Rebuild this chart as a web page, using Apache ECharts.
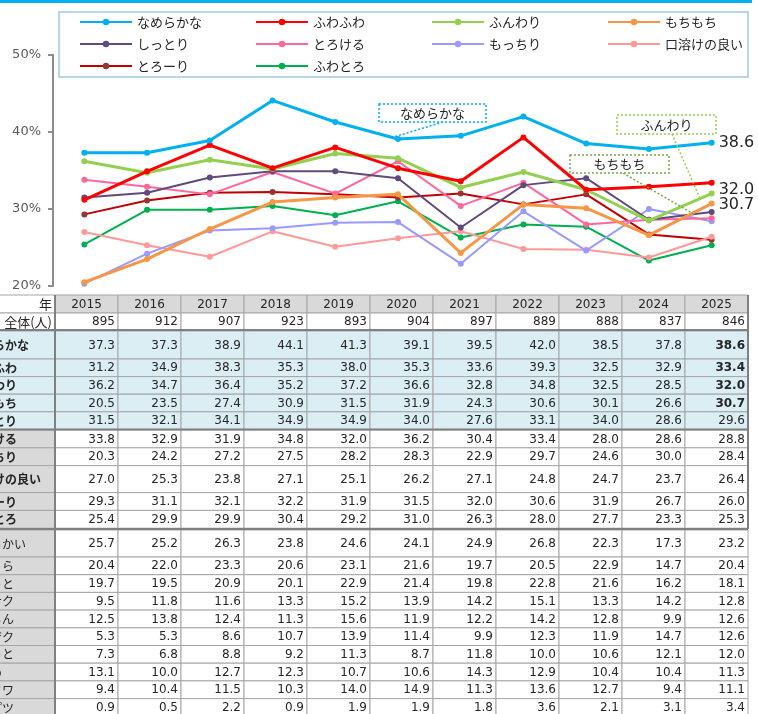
<!DOCTYPE html>
<html lang="ja">
<head>
<meta charset="utf-8">
<title>食感イメージの推移</title>
<script src="https://cdn.jsdelivr.net/npm/echarts@6/dist/echarts.min.js"></script>
<style>
  html, body { margin: 0; padding: 0; background: #fff; }
  #chart { width: 758px; height: 714px; }
</style>
</head>
<body>
<div id="chart"></div>
<script>
// 年・回答者数
const years = ['2015', '2016', '2017', '2018', '2019', '2020', '2021', '2022', '2023', '2024', '2025']
const totals = [895, 912, 907, 923, 893, 904, 897, 889, 888, 837, 846]

// グラフに描く10項目 (%)
const nameraka  = [37.3, 37.3, 38.9, 44.1, 41.3, 39.1, 39.5, 42.0, 38.5, 37.8, 38.6]
const fuwafuwa  = [31.2, 34.9, 38.3, 35.3, 38.0, 35.3, 33.6, 39.3, 32.5, 32.9, 33.4]
const funwari   = [36.2, 34.7, 36.4, 35.2, 37.2, 36.6, 32.8, 34.8, 32.5, 28.5, 32.0]
const mochimochi = [20.5, 23.5, 27.4, 30.9, 31.5, 31.9, 24.3, 30.6, 30.1, 26.6, 30.7]
const shittori  = [31.5, 32.1, 34.1, 34.9, 34.9, 34.0, 27.6, 33.1, 34.0, 28.6, 29.6]
const torokeru  = [33.8, 32.9, 31.9, 34.8, 32.0, 36.2, 30.4, 33.4, 28.0, 28.6, 28.8]
const mocchiri  = [20.3, 24.2, 27.2, 27.5, 28.2, 28.3, 22.9, 29.7, 24.6, 30.0, 28.4]
const kuchidoke = [27.0, 25.3, 23.8, 27.1, 25.1, 26.2, 27.1, 24.8, 24.7, 23.7, 26.4]
const torori    = [29.3, 31.1, 32.1, 32.2, 31.9, 31.5, 32.0, 30.6, 31.9, 26.7, 26.0]
const fuwatoro  = [25.4, 29.9, 29.9, 30.4, 29.2, 31.0, 26.3, 28.0, 27.7, 23.3, 25.3]

// 表のみの項目 (%)
const yawarakai = [25.7, 25.2, 26.3, 23.8, 24.6, 24.1, 24.9, 26.8, 22.3, 17.3, 23.2]
const fukkura   = [20.4, 22.0, 23.3, 20.6, 23.1, 21.6, 19.7, 20.5, 22.9, 14.7, 20.4]
const saratto   = [19.7, 19.5, 20.9, 20.1, 22.9, 21.4, 19.8, 22.8, 21.6, 16.2, 18.1]
const sakusaku  = [9.5, 11.8, 11.6, 13.3, 15.2, 13.9, 14.2, 15.1, 13.3, 14.2, 12.8]
const pururun   = [12.5, 13.8, 12.4, 11.3, 15.6, 11.9, 12.2, 14.2, 12.8, 9.9, 12.6]
const zakuzaku  = [5.3, 5.3, 8.6, 10.7, 13.9, 11.4, 9.9, 12.3, 11.9, 14.7, 12.6]
const horotto   = [7.3, 6.8, 8.8, 9.2, 11.3, 8.7, 11.8, 10.0, 10.6, 12.1, 12.0]
const katame    = [13.1, 10.0, 12.7, 12.3, 10.7, 10.6, 14.3, 12.9, 10.4, 10.4, 11.3]
const fuwaKana  = [9.4, 10.4, 11.5, 10.3, 14.0, 14.9, 11.3, 13.6, 12.7, 9.4, 11.1]
const putsuputsu = [0.9, 0.5, 2.2, 0.9, 1.9, 1.9, 1.8, 3.6, 2.1, 3.1, 3.4]

const lineNames = ['なめらかな', 'ふわふわ', 'ふんわり', 'もちもち', 'しっとり', 'とろける', 'もっちり', '口溶けの良い', 'とろーり', 'ふわとろ']
const lineValues = [nameraka, fuwafuwa, funwari, mochimochi, shittori, torokeru, mocchiri, kuchidoke, torori, fuwatoro]
const extraNames = ['やわらかい', 'ふっくら', 'さらっと', 'サクサク', 'ぷるるん', 'ザクザク', 'ほろっと', 'かため', 'フワフワ', 'プツプツ']
const extraValues = [yawarakai, fukkura, saratto, sakusaku, pururun, zakuzaku, horotto, katame, fuwaKana, putsuputsu]

// y軸の目盛
const yMin = 20
const yMax = 50
const yStep = 10

// 線の色・太さ
const lineColors = ['#00b0f0', '#ff0000', '#92d050', '#f79646', '#604a7b', '#ff6699', '#9999ff', '#ff9999', '#c00000', '#00b050']
const markerColors = ['#00b0f0', '#ff0000', '#92d050', '#f79646', '#604a7b', '#ff6699', '#9999ff', '#ff9999', '#953735', '#00b050']
const lineWidths = [3, 3, 3, 3, 2, 2, 2, 2, 2, 2]

const JP = '"Noto Sans CJK JP", "Noto Sans", sans-serif'
const NUM = '"DejaVu Sans", Verdana, sans-serif'

const chart = echarts.init(document.getElementById('chart'))

// 最終年の数値ラベル (系列番号: 上下のずらし)
const endLabelShift = { 0: 0, 2: -4, 3: 1.5 }

const buildSeries = () => lineNames.map((name, i) => ({
  name,
  type: 'line',
  data: lineValues[i],
  symbol: 'circle',
  symbolSize: 6,
  lineStyle: { color: lineColors[i], width: lineWidths[i] },
  itemStyle: { color: markerColors[i] },
  z: 10 - i,
  endLabel: endLabelShift[i] === undefined ? { show: false } : {
    show: true,
    distance: 7,
    offset: [0, endLabelShift[i]],
    formatter: (p) => Number(p.value).toFixed(1),
    fontSize: 16,
    fontFamily: NUM,
    color: '#262626'
  }
}))

chart.setOption({
  animation: false,
  grid: { left: 53, top: 55, width: 690, height: 231 },
  legend: {
    data: lineNames,
    left: 79,
    top: 15,
    width: 700,
    padding: 0,
    itemWidth: 52,
    itemHeight: 8,
    itemGap: 8,
    textStyle: { fontSize: 13, fontFamily: JP, color: '#262626', width: 110, lineHeight: 14 }
  },
  xAxis: {
    type: 'category',
    data: years,
    boundaryGap: true,
    show: false
  },
  yAxis: {
    type: 'value',
    min: yMin,
    max: yMax,
    interval: yStep,
    axisLine: { show: true, lineStyle: { color: '#8c8c8c', width: 2 } },
    axisTick: { show: true, length: 5, lineStyle: { color: '#8c8c8c', width: 2 } },
    splitLine: { show: false },
    axisLabel: { formatter: '{value}%', color: '#595959', fontSize: 13, fontFamily: NUM, margin: 12 }
  },
  series: buildSeries()
})

// ---- 表 ----
const TBL_LEFT = 55
const COL_W = 63
const LABEL_LEFT = -40
const HEAD_TOP = 295
const groupTops = [331, 430, 530]
const BORDER = '#a6a6a6'
const THICK = '#808080'

const rowHeight = (i) => {
  if (i === 0) return 28
  if (i === 7 || i === 10) return 27
  if (i < 5) return 17.6
  if (i < 10) return 17.8
  return 17.7
}

const buildTable = () => {
  const els = []
  const rect = (x, y, w, h, fill) => els.push({
    type: 'rect', silent: true, z: 1,
    shape: { x, y, width: w, height: h },
    style: { fill, stroke: BORDER, lineWidth: 1 }
  })
  const text = (x, y, str, font, align) => els.push({
    type: 'text', silent: true, z: 2, x, y,
    style: { text: str, font, fill: '#262626', align, verticalAlign: 'middle', textAlign: align, textVerticalAlign: 'middle' }
  })
  const line = (x1, y1, x2, y2, w) => els.push({
    type: 'line', silent: true, z: 3,
    shape: { x1, y1, x2, y2 },
    style: { stroke: THICK, lineWidth: w }
  })

  // 見出し行
  rect(LABEL_LEFT, HEAD_TOP, TBL_LEFT - LABEL_LEFT, 18, '#fff')
  text(52, HEAD_TOP + 9.5, '年', '13px ' + JP, 'right')
  years.forEach((y, c) => {
    const x = TBL_LEFT + c * COL_W
    rect(x, HEAD_TOP, COL_W, 18, '#d9d9d9')
    text(x + COL_W / 2, HEAD_TOP + 9.5, y, '12px ' + NUM, 'center')
  })
  // 全体(人)
  const totTop = HEAD_TOP + 18
  rect(LABEL_LEFT, totTop, TBL_LEFT - LABEL_LEFT, 17, '#fff')
  text(52, totTop + 9, '全体(人)', '13px ' + JP, 'right')
  totals.forEach((v, c) => {
    const x = TBL_LEFT + c * COL_W
    rect(x, totTop, COL_W, 17, '#fff')
    text(x + COL_W - 3, totTop + 9, String(v), '12px ' + NUM, 'right')
  })

  const names = lineNames.concat(extraNames)
  const values = lineValues.concat(extraValues)
  let y = groupTops[0]
  names.forEach((name, r) => {
    const g = r < 5 ? 0 : (r < 10 ? 1 : 2)
    if (r === 5 || r === 10) y = groupTops[g]
    const h = rowHeight(r)
    const labelFill = g === 0 ? '#daeef3' : '#d9d9d9'
    const cellFill = g === 0 ? '#daeef3' : '#fff'
    rect(LABEL_LEFT, y, TBL_LEFT - LABEL_LEFT, h, labelFill)
    if (g < 2) {
      text(-31, y + h / 2 + 0.5, name, 'bold 12px ' + JP, 'left')
    } else {
      text(-34, y + h / 2 + 0.5, name, '12px ' + JP, 'left')
    }
    values[r].forEach((v, c) => {
      const x = TBL_LEFT + c * COL_W
      rect(x, y, COL_W, h, cellFill)
      const bold = r < 4 && c === years.length - 1
      text(x + COL_W - 3, y + h / 2 + 0.5, v.toFixed(1), (bold ? 'bold ' : '') + '12px ' + NUM, 'right')
    })
    y += h
  })

  // 太い罫線
  const right = TBL_LEFT + years.length * COL_W
  line(LABEL_LEFT, 330, right, 330, 2)
  line(LABEL_LEFT, 429.5, right, 429.5, 2)
  line(LABEL_LEFT, 529, right, 529, 2)
  line(TBL_LEFT, HEAD_TOP, TBL_LEFT, 714, 2)
  line(right, HEAD_TOP, right, 529, 2)
  return els
}

// ---- 吹き出し ----
const buildNotes = () => {
  const els = []
  const px = (s, idx) => chart.convertToPixel({ seriesIndex: s }, [idx, lineValues[s][idx]])
  const note = (box, label, color, from, to) => {
    els.push({
      type: 'line', silent: true, z: 20,
      shape: { x1: from[0], y1: from[1], x2: to[0], y2: to[1] },
      style: { stroke: color, lineWidth: 1.5, lineDash: [2, 2] }
    })
    els.push({
      type: 'rect', silent: true, z: 21,
      shape: { x: box[0], y: box[1], width: box[2], height: box[3] },
      style: { fill: '#fff', stroke: color, lineWidth: 1.5, lineDash: [2, 2] }
    })
    els.push({
      type: 'text', silent: true, z: 22,
      x: box[0] + box[2] / 2, y: box[1] + box[3] / 2 + 0.5,
      style: { text: label, font: '13px ' + JP, fill: '#262626', align: 'center', verticalAlign: 'middle', textAlign: 'center', textVerticalAlign: 'middle' }
    })
  }
  const p0 = px(0, 5)
  note([379, 104, 107, 18], 'なめらかな', '#00b0f0', [443, 122], [p0[0] - 4, p0[1] - 2])
  const p2 = px(2, 10)
  note([617, 115, 99, 19], 'ふんわり', '#92d050', [672, 134], [p2[0] - 12, p2[1] + 4])
  const p3 = px(3, 10)
  note([570, 155, 99, 18], 'もちもち', '#77a645', [623, 173], [p3[0] - 17, p3[1] + 11])
  return els
}

chart.setOption({
  graphic: [
    { type: 'rect', silent: true, shape: { x: 0, y: 0, width: 752, height: 3 }, style: { fill: '#00b0f0' } },
    { type: 'rect', silent: true, shape: { x: 59, y: 12, width: 689, height: 65 }, style: { fill: 'none', stroke: '#9ecae1', lineWidth: 1.5 } }
  ].concat(buildTable(), buildNotes())
})

window.addEventListener('resize', () => chart.resize())
</script>
</body>
</html>
